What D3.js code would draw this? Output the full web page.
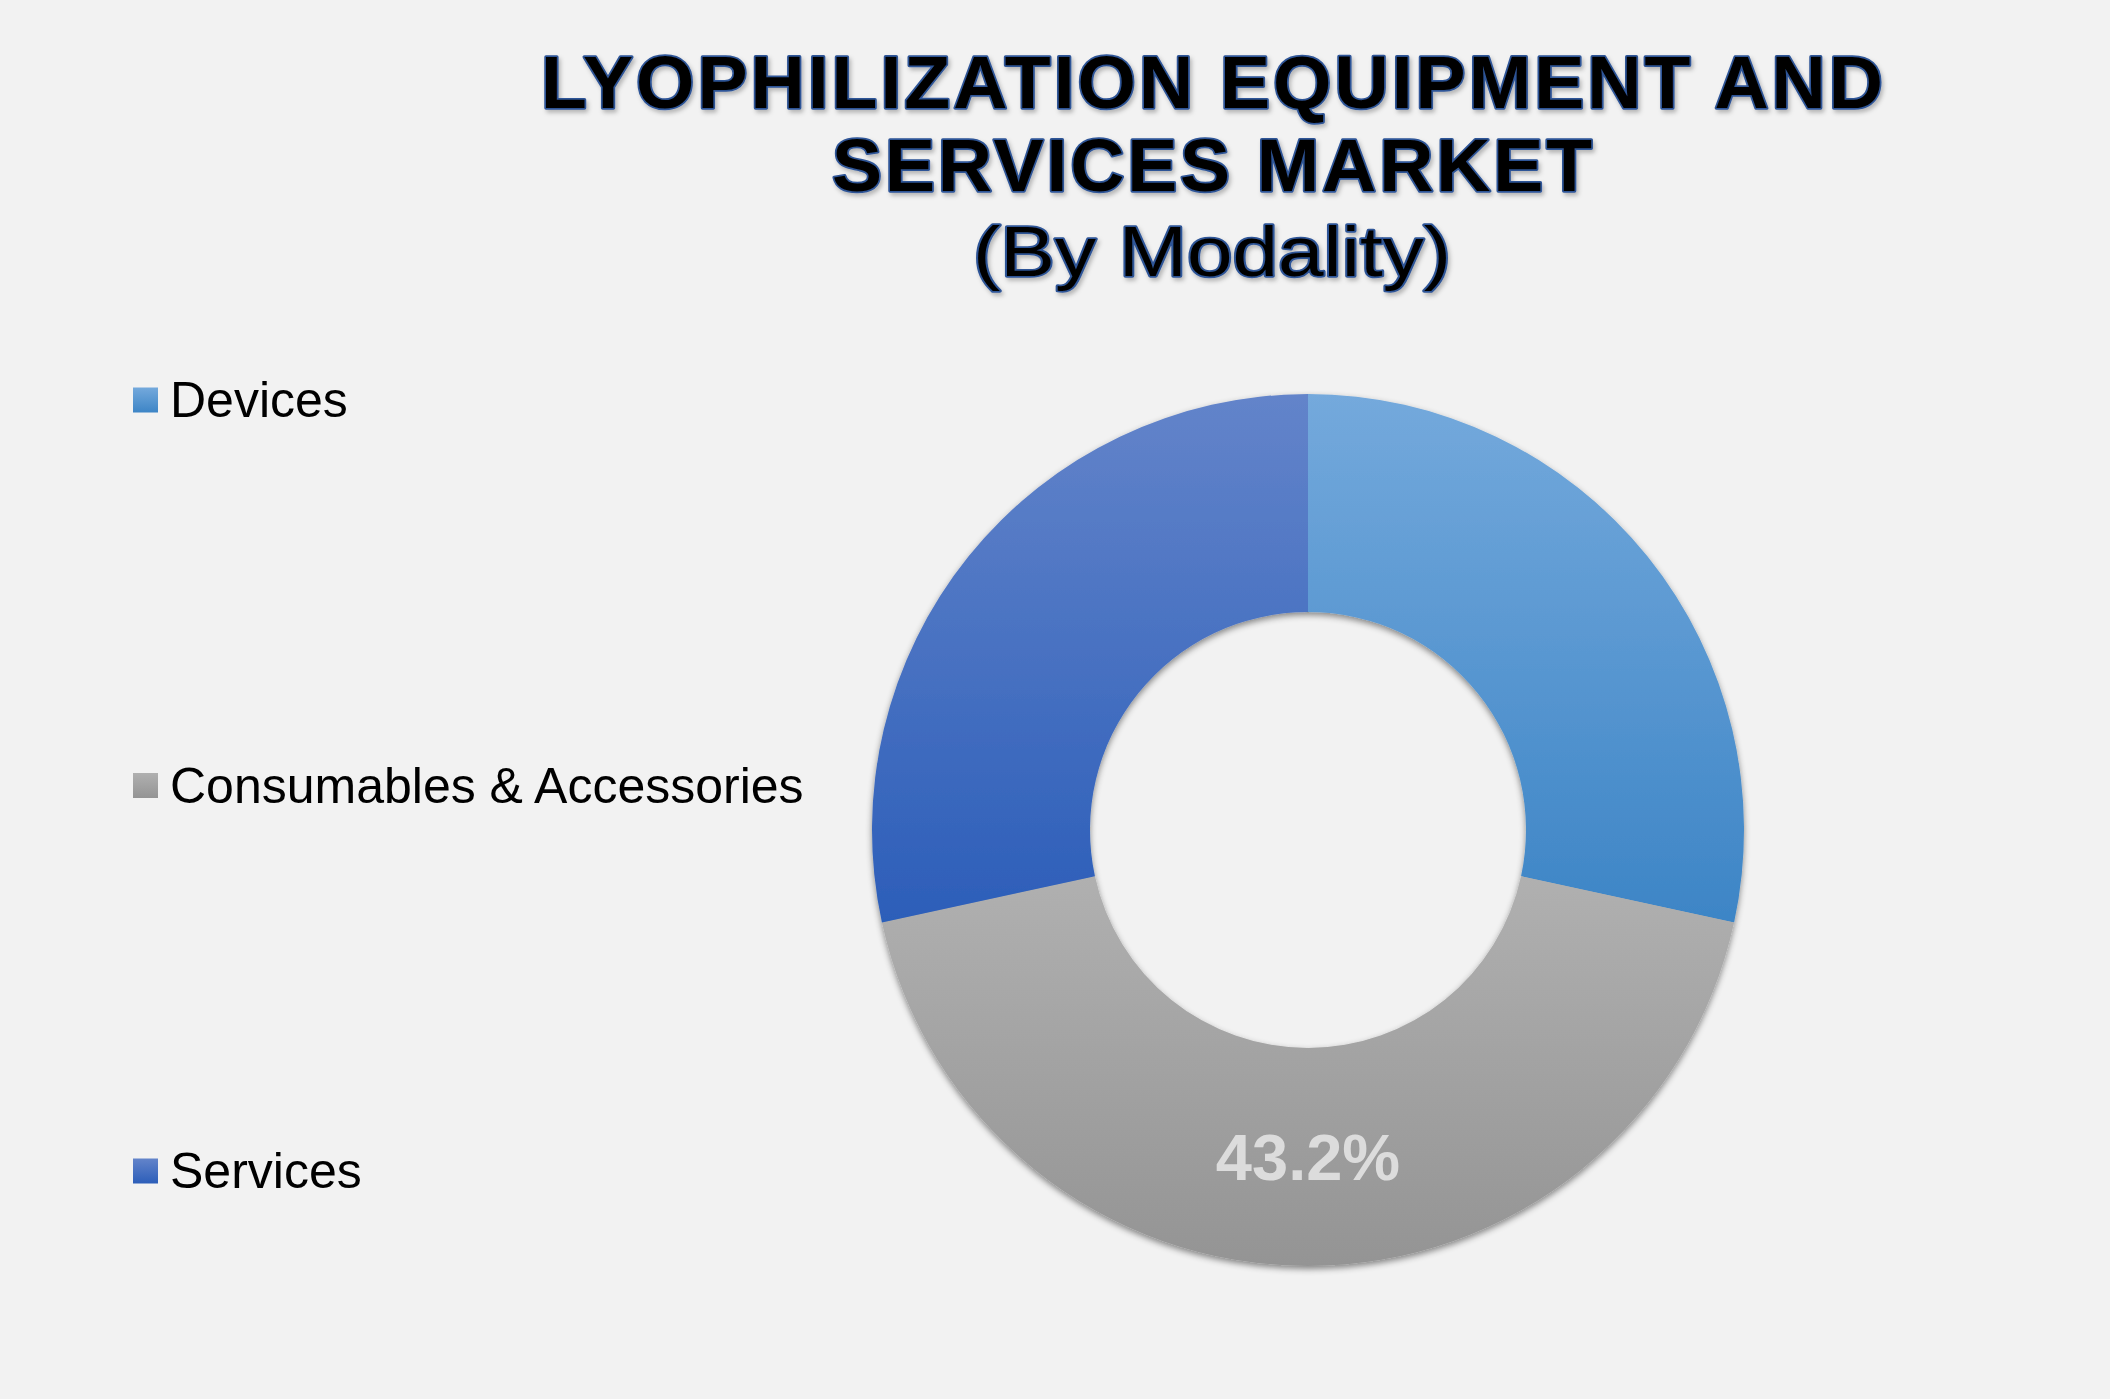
<!DOCTYPE html>
<html>
<head>
<meta charset="utf-8">
<script src="https://cdn.jsdelivr.net/npm/d3@7"></script>
<style>
  html, body { margin: 0; padding: 0; background: #f2f2f2; }
  svg { display: block; font-family: "Liberation Sans", Arial, sans-serif; }
</style>
</head>
<body>
<svg id="chart"></svg>
<script>
const categories = ["Devices", "Consumables & Accessories", "Services"];
const shares = [28.4, 43.2, 28.4];
const showLabel = [false, true, false];
const titleLines = ["LYOPHILIZATION EQUIPMENT AND", "SERVICES MARKET", "(By Modality)"];

const W = 2110, H = 1399;
const cx = 1308, cy = 830;
const outerR = 436, innerR = 218;

// top/bottom colours of each slice gradient
const gradTop = ["#74a9dc", "#b0b0b0", "#6384ca"];
const gradBottom = ["#3d85c6", "#949494", "#2c5eb9"];

const svg = d3.select("#chart").attr("width", W).attr("height", H);
svg.append("rect").attr("width", W).attr("height", H).attr("fill", "#f2f2f2");

const defs = svg.append("defs");
categories.forEach((c, i) => {
  const g = defs.append("linearGradient")
    .attr("id", `grad-${i}`)
    .attr("x1", "0").attr("y1", "0").attr("x2", "0").attr("y2", "1");
  g.append("stop").attr("offset", "0%").attr("stop-color", gradTop[i]);
  g.append("stop").attr("offset", "100%").attr("stop-color", gradBottom[i]);
});

const shadow = defs.append("filter").attr("id", "donut-shadow")
  .attr("x", "-10%").attr("y", "-10%").attr("width", "120%").attr("height", "120%");
shadow.append("feDropShadow")
  .attr("dx", 0).attr("dy", 3).attr("stdDeviation", 3)
  .attr("flood-color", "#000").attr("flood-opacity", 0.45);

const titleShadow = defs.append("filter").attr("id", "title-shadow")
  .attr("x", "-5%").attr("y", "-20%").attr("width", "110%").attr("height", "140%");
titleShadow.append("feDropShadow")
  .attr("dx", 2).attr("dy", 3).attr("stdDeviation", 2)
  .attr("flood-color", "#000").attr("flood-opacity", 0.25);

// Title.
const titleX = 1212;
const titleSpec = [
  { y: 108, size: 75, weight: "bold", len: 1342 },
  { y: 191, size: 75, weight: "bold", len: 760 },
  { y: 276, size: 70, weight: "normal", len: 478 },
];
const title = svg.append("g").attr("filter", "url(#title-shadow)");
titleLines.forEach((t, i) => {
  const s = titleSpec[i];
  title.append("text")
    .attr("x", titleX)
    .attr("y", s.y)
    .attr("text-anchor", "middle")
    .attr("font-size", s.size)
    .attr("font-weight", s.weight)
    .attr("textLength", s.len)
    .attr("lengthAdjust", i === 2 ? "spacingAndGlyphs" : "spacing")
    .attr("fill", "#000")
    .attr("stroke", "#2f5597")
    .attr("stroke-width", 3.5)
    .attr("stroke-linejoin", "round")
    .style("paint-order", "stroke")
    .text(t);
});

// Donut.
const pie = d3.pie().sort(null).value((d) => d)(shares);
const arc = d3.arc().innerRadius(innerR).outerRadius(outerR);

const donut = svg.append("g")
  .attr("transform", `translate(${cx}, ${cy})`)
  .attr("filter", "url(#donut-shadow)");

donut.selectAll("path")
  .data(pie)
  .join("path")
  .attr("d", arc)
  .attr("fill", (_d, i) => `url(#grad-${i})`);

const labelArc = d3.arc().innerRadius((innerR + outerR) / 2).outerRadius((innerR + outerR) / 2);
svg.append("g")
  .attr("transform", `translate(${cx}, ${cy})`)
  .selectAll("text")
  .data(pie.filter((_d, i) => showLabel[i]))
  .join("text")
  .attr("x", (d) => labelArc.centroid(d)[0])
  .attr("y", (d) => labelArc.centroid(d)[1])
  .attr("dy", "0.36em")
  .attr("text-anchor", "middle")
  .attr("font-size", 65)
  .attr("font-weight", "bold")
  .attr("fill", "#dcdcdc")
  .text((d) => `${d.data.toFixed(1)}%`);

// Legend.
const legendY = d3.scalePoint().domain(categories).range([400, 1171]);
const sw = 25;
const legend = svg.append("g").attr("class", "legend");
const rows = legend.selectAll("g")
  .data(categories)
  .join("g")
  .attr("transform", (d) => `translate(133, ${legendY(d)})`);

rows.append("rect")
  .attr("y", -sw / 2)
  .attr("width", sw)
  .attr("height", sw)
  .attr("fill", (_d, i) => `url(#grad-${i})`);

rows.append("text")
  .attr("x", 37)
  .attr("y", 17)
  .attr("font-size", 50)
  .attr("fill", "#000")
  .text((d) => d);
</script>
</body>
</html>
